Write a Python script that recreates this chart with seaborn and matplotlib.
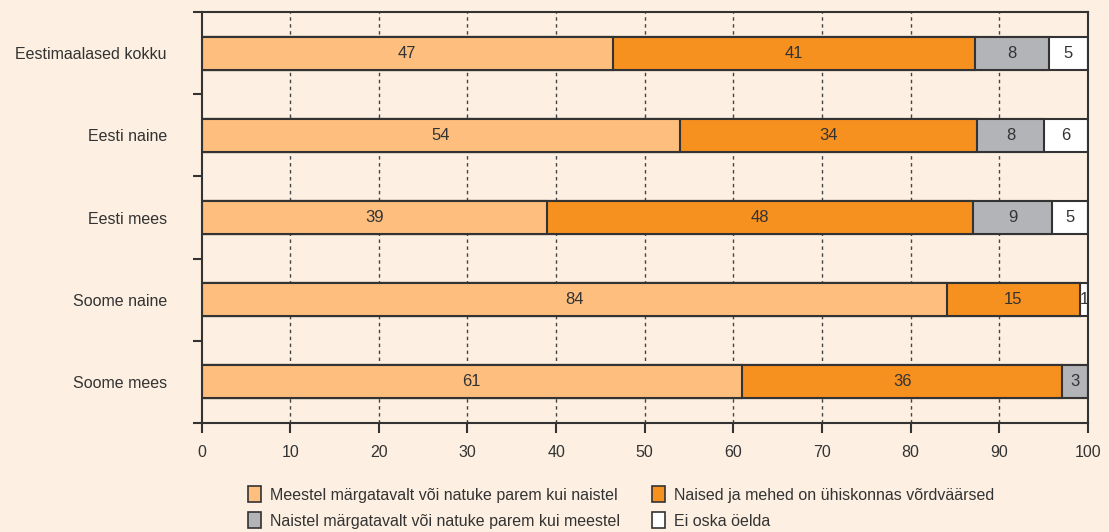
import matplotlib
matplotlib.use("Agg")
import matplotlib.pyplot as plt
from matplotlib.patches import Patch
import seaborn as sns
import pandas as pd
import numpy as np

categories = ["Eestimaalased kokku", "Eesti naine", "Eesti mees", "Soome naine", "Soome mees"]
series_names = [
    "Meestel märgatavalt või natuke parem kui naistel",
    "Naised ja mehed on ühiskonnas võrdväärsed",
    "Naistel märgatavalt või natuke parem kui meestel",
    "Ei oska öelda",
]
meestel = [46.4, 54.0, 39.0, 84.1, 61.0]
vordsed = [40.9, 33.5, 48.0, 15.0, 36.1]
naistel = [8.3, 7.6, 9.0, 0.0, 2.9]
ei_oska = [4.4, 4.9, 4.0, 0.9, 0.0]
labels_meestel = ["47", "54", "39", "84", "61"]
labels_vordsed = ["41", "34", "48", "15", "36"]
labels_naistel = ["8", "8", "9", "", "3"]
labels_ei_oska = ["5", "6", "5", "1", ""]
x_ticks = [0, 10, 20, 30, 40, 50, 60, 70, 80, 90, 100]

colors = ["#FDBE7E", "#F6901F", "#B3B4B7", "#FFFFFF"]
bg = "#FDF0E2"
dark = "#333333"

sns.set_theme(style="white")
plt.rcParams["font.family"] = ["Liberation Sans Narrow", "Liberation Sans", "DejaVu Sans"]

fig = plt.figure(figsize=(11.09, 5.32), dpi=100, facecolor=bg)
ax = fig.add_axes([0.1817, 0.2049, 0.981 - 0.1817, 0.9774 - 0.2049])
ax.set_facecolor(bg)

series = [meestel, vordsed, naistel, ei_oska]
series_labels = [labels_meestel, labels_vordsed, labels_naistel, labels_ei_oska]
cum = np.cumsum(np.array(series), axis=0)

# grid behind
for xv in x_ticks[1:-1]:
    ax.axvline(xv, color="#444444", lw=1.0, ls=(0, (2.5, 2.5)), zorder=0)

# stacked bars: draw totals from largest to smallest
for i in range(len(series) - 1, -1, -1):
    df = pd.DataFrame({"cat": categories, "val": cum[i]})
    sns.barplot(data=df, x="val", y="cat", order=categories, orient="h",
                color=colors[i], saturation=1, edgecolor=dark, linewidth=1.5,
                width=0.4, ax=ax, zorder=2)

for i in range(len(series)):
    for j, cat in enumerate(categories):
        lab = series_labels[i][j]
        if lab:
            xc = cum[i][j] - series[i][j] / 2
            ax.text(xc, j, lab, ha="center", va="center", fontsize=12,
                    color=dark, zorder=5)

ax.set_xlim(0, 100)
ax.set_ylim(4.5, -0.5)
ax.set_xticks(x_ticks)
ax.set_xlabel("")
ax.set_ylabel("")
ax.tick_params(axis="x", which="major", direction="out", length=7, width=1.5,
               color=dark, labelsize=11.5, labelcolor=dark, pad=9, bottom=True)
ax.set_yticks(range(len(categories)))
ax.set_yticklabels(categories)
ax.tick_params(axis="y", which="major", length=0, pad=25, labelsize=11.5,
               labelcolor=dark, left=True)
ax.set_yticks(np.arange(-0.5, 5.0, 1.0), minor=True)
ax.tick_params(axis="y", which="minor", direction="out", length=6.5, width=1.5,
               color=dark, left=True)
for s in ax.spines.values():
    s.set_visible(True)
    s.set_color(dark)
    s.set_linewidth(1.5)

handles = [Patch(facecolor=colors[k], edgecolor=dark, linewidth=1.2) for k in [0, 2, 1, 3]]
names = [series_names[k] for k in [0, 2, 1, 3]]
fig.legend(handles, names, loc="upper center", bbox_to_anchor=(0.56, 0.1006),
           ncol=2, frameon=False, fontsize=11.5, handlelength=0.85, handleheight=1.15,
           handletextpad=0.55, columnspacing=2.0, labelspacing=0.6,
           labelcolor=dark, borderpad=0)

fig.savefig("out.png", dpi=100, facecolor=bg)
